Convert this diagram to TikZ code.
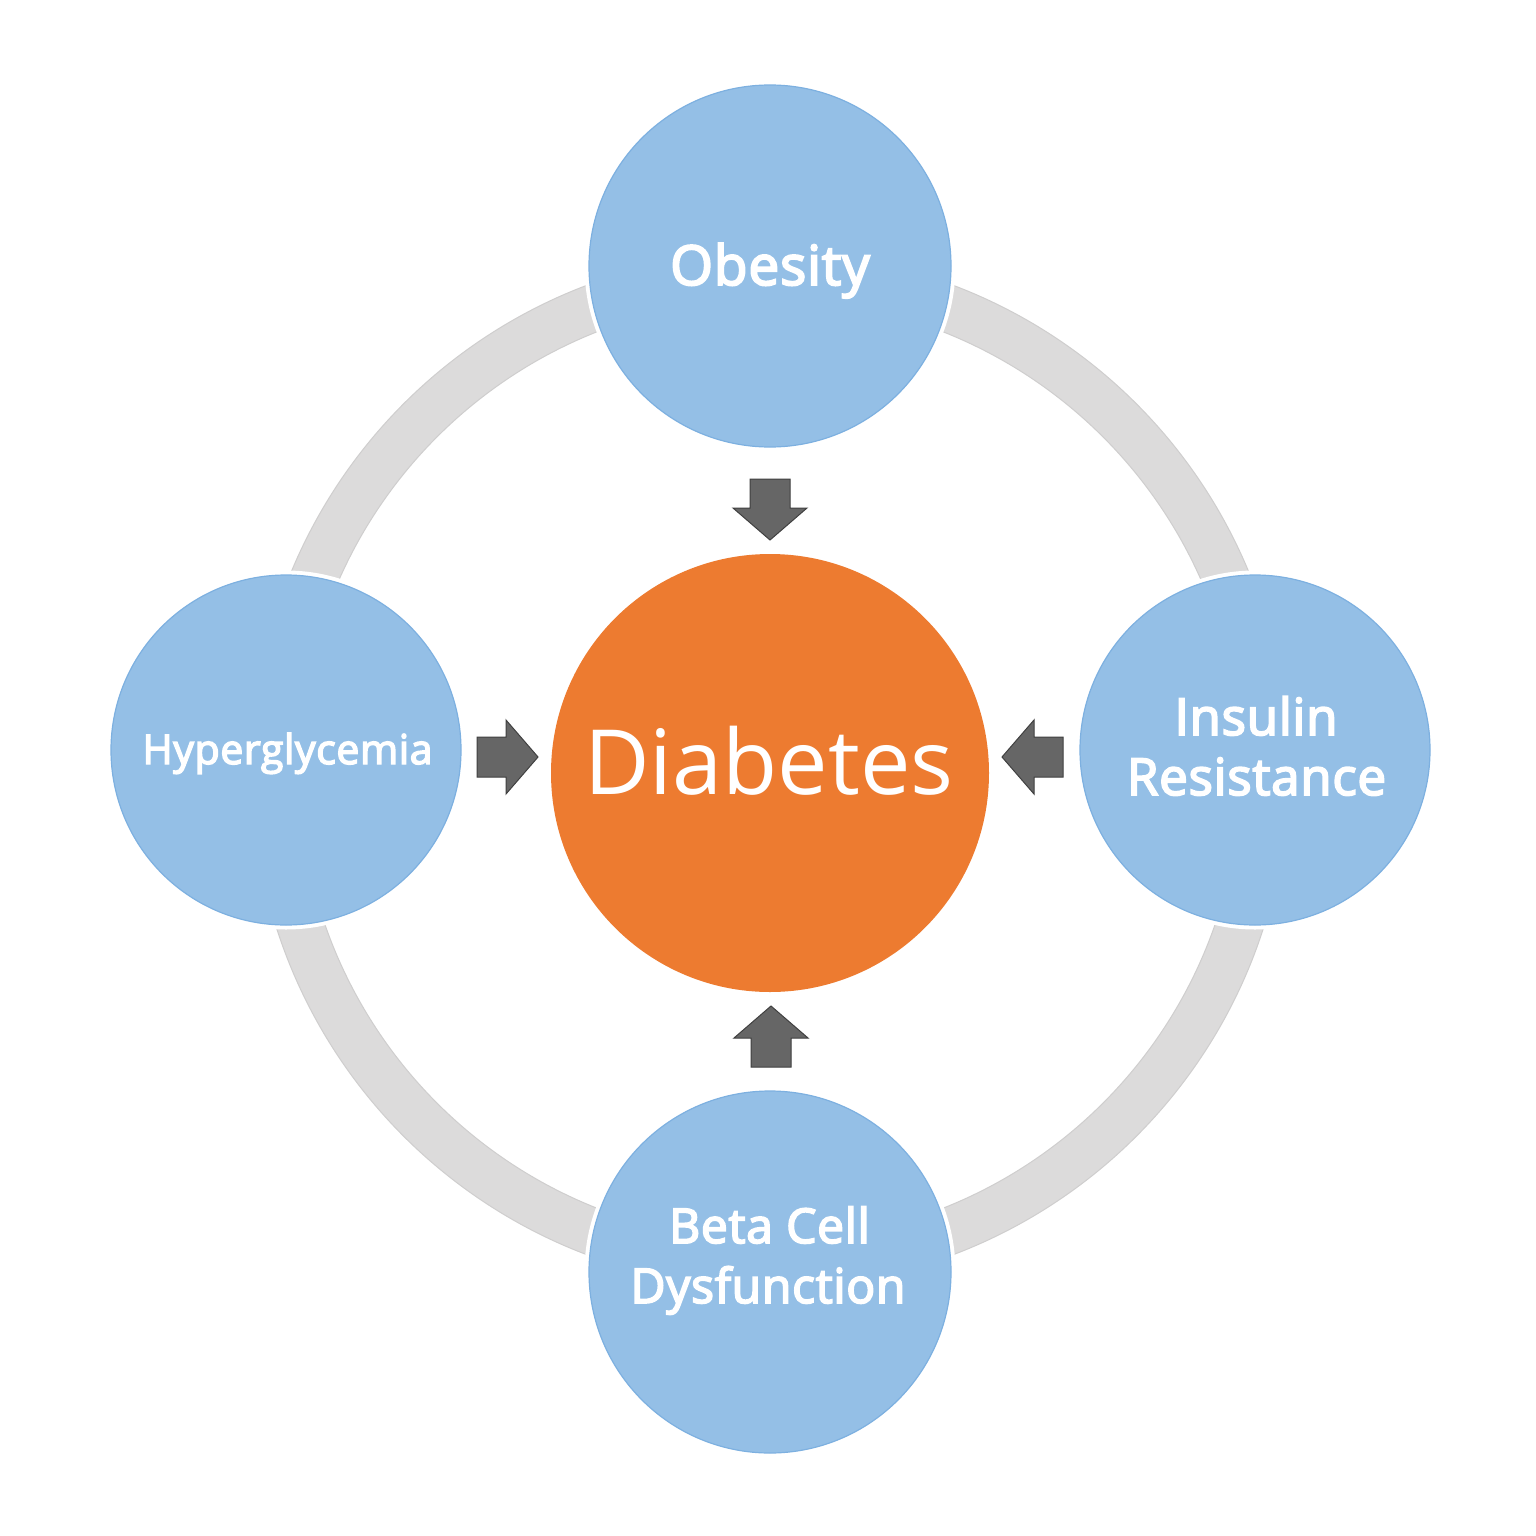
\documentclass[tikz,border=0pt]{standalone}
\usepackage{fontspec}
\setmainfont{Open Sans}
\newfontfamily\labfont[FakeBold=3.6,LetterSpace=1.5]{Open Sans}
\definecolor{circblue}{HTML}{94BFE6}
\definecolor{circedge}{HTML}{7DB0E0}
\definecolor{diaorange}{HTML}{ED7B30}
\definecolor{ringgrey}{HTML}{DCDBDB}
\definecolor{ringedge}{HTML}{CFCECE}
\definecolor{arrowfill}{HTML}{666666}
\definecolor{arrowedge}{HTML}{404040}
\begin{document}
\begin{tikzpicture}[x=1pt,y=-1pt,
  satellite/.style={circle, inner sep=0pt, fill=circblue, draw=circedge, line width=1.2pt,
     preaction={draw=white, line width=9pt}},
  hub/.style={circle, inner sep=0pt, fill=diaorange, minimum size=438pt},
  labtext/.style={anchor=base, text=white, inner sep=0pt},
  blockarrow/.style={fill=arrowfill, draw=arrowedge, line width=1pt, line join=miter}
]
\useasboundingbox (0,0) rectangle (1536,1536);
\fill[white] (0,0) rectangle (1536,1536);

% ring
\coordinate (ringc) at (770,770);
\draw[ringgrey, line width=47pt] (ringc) circle[radius=494.5];
\draw[ringedge, line width=1pt] (ringc) circle[radius=518];
\draw[ringedge, line width=1pt] (ringc) circle[radius=471];

% circles
\node[hub] (diab) at (770,773) {};
\node[satellite, minimum size=362pt] (obes) at (770,266) {};
\node[satellite, minimum size=350pt] (hyper) at (286,750) {};
\node[satellite, minimum size=350pt] (insul) at (1255,750) {};
\node[satellite, minimum size=362pt] (beta) at (770,1272) {};

% texts
\node[labtext, font=\fontsize{90}{100}\selectfont] (tdiab) at (769,794) {Diabetes};
\node[labtext, font=\labfont\fontsize{55}{64}\selectfont] (tobes) at (770,285) {Obesity};
\node[labtext, font=\labfont\fontsize{41}{50}\selectfont] (thyper) at (287.5,764) {Hyperglycemia};
\node[labtext, font=\labfont\fontsize{51}{60}\selectfont] (tins1) at (1256,735) {Insulin};
\node[labtext, font=\labfont\fontsize{51}{60}\selectfont] (tins2) at (1256.5,795) {Resistance};
\node[labtext, font=\labfont\fontsize{48}{58}\selectfont] (tbeta1) at (769.5,1243) {Beta Cell};
\node[labtext, font=\labfont\fontsize{48}{58}\selectfont] (tbeta2) at (768,1303) {Dysfunction};

% block arrows (tip points)
\coordinate (tipL) at (538,757);
\coordinate (tipR) at (1002,757);
\coordinate (tipT) at (770,540);
\coordinate (tipB) at (771,1006);
\foreach \t/\r in {tipL/0, tipR/180, tipT/-90, tipB/90}{
  \begin{scope}[shift={(\t)}, rotate=\r]
    \draw[blockarrow] (0,0) -- (-32,-37) -- (-32,-20) -- (-61,-20) -- (-61,20) -- (-32,20) -- (-32,37) -- cycle;
  \end{scope}
}
\end{tikzpicture}
\end{document}
